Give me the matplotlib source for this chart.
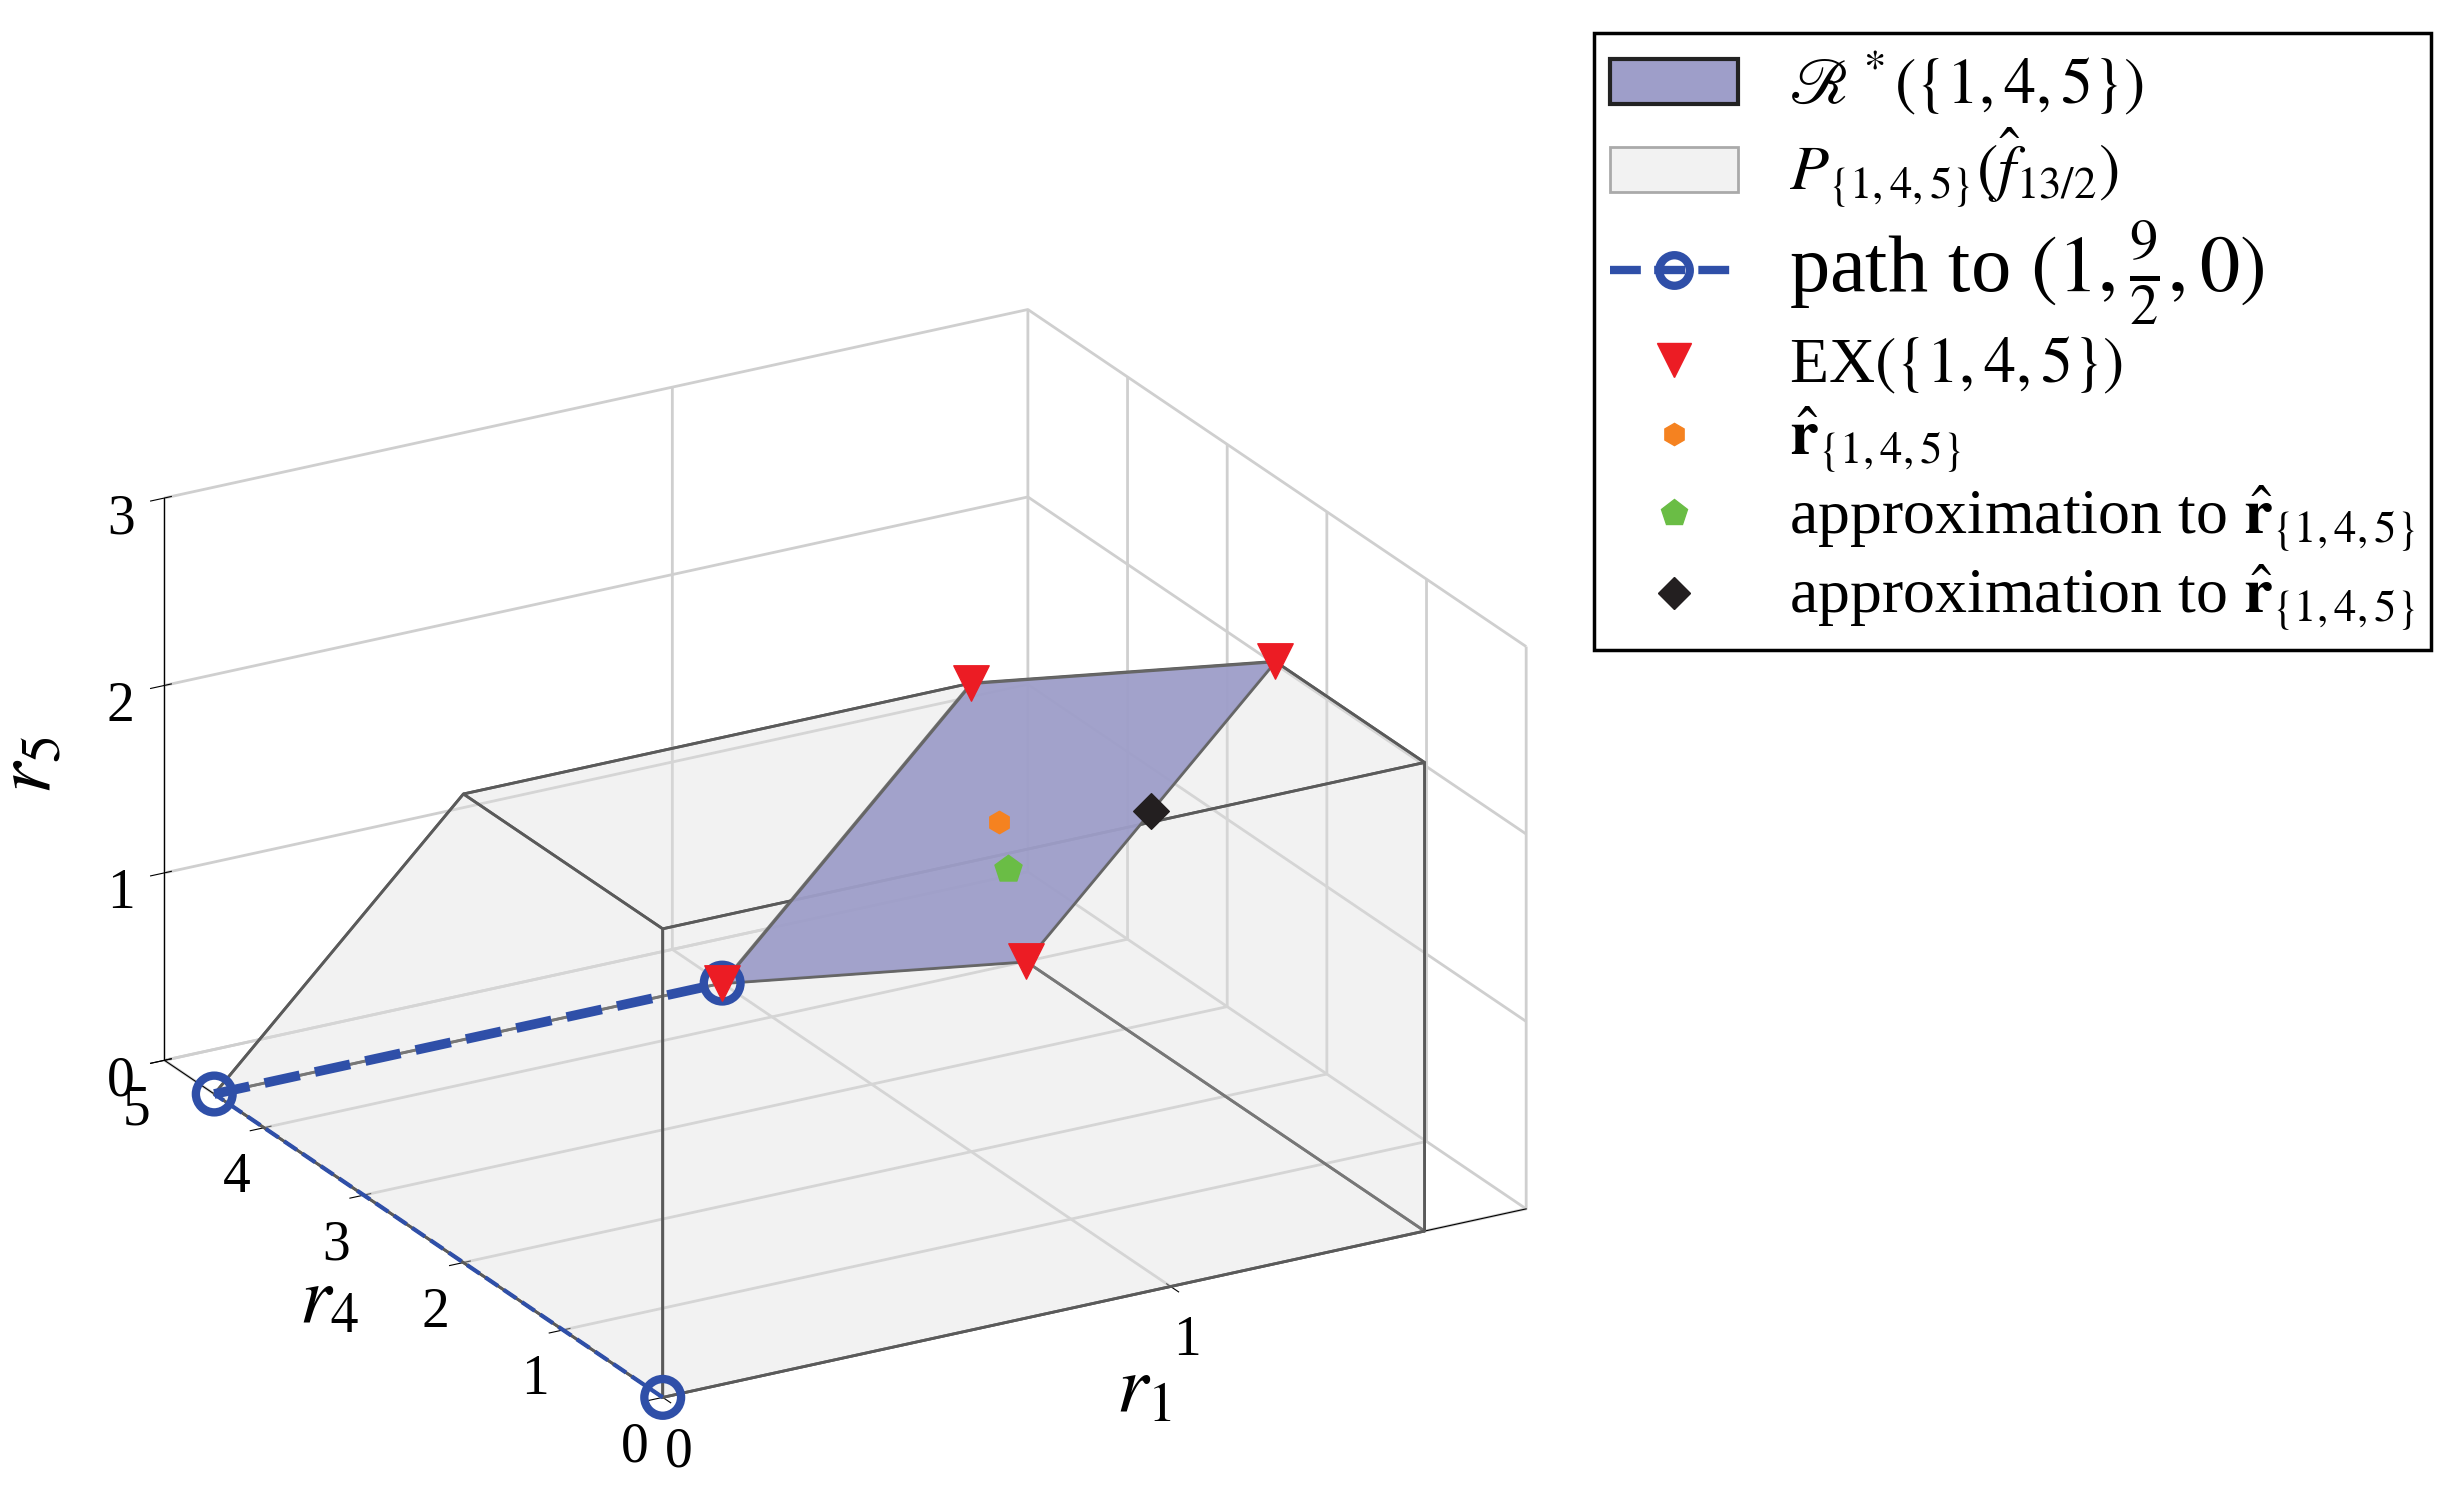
import numpy as np
import matplotlib.pyplot as plt
from mpl_toolkits.mplot3d.art3d import Poly3DCollection
from matplotlib.lines import Line2D
from matplotlib.patches import Patch

plt.rcParams['font.family'] = ['Liberation Serif', 'DejaVu Serif']
plt.rcParams['mathtext.fontset'] = 'stix'

# coordinates are (r1, r4, r5)
p_verts = {
    'left':   [(0, 0, 0), (0, 4.5, 0), (0, 2, 2.5), (0, 0, 2.5)],
    'right':  [(1.5, 0, 0), (1.5, 4, 0), (1.5, 1.5, 2.5), (1.5, 0, 2.5)],
    'front':  [(0, 0, 0), (1.5, 0, 0), (1.5, 0, 2.5), (0, 0, 2.5)],
    'bottom': [(0, 0, 0), (0, 4.5, 0), (1, 4.5, 0), (1.5, 4, 0), (1.5, 0, 0)],
    'top':    [(0, 0, 2.5), (0, 2, 2.5), (1, 2, 2.5), (1.5, 1.5, 2.5), (1.5, 0, 2.5)],
    'slope':  [(0, 4.5, 0), (1, 4.5, 0), (1, 2, 2.5), (0, 2, 2.5)],
}
rstar = [(1, 4.5, 0), (1.5, 4, 0), (1.5, 1.5, 2.5), (1, 2, 2.5)]
ex_pts = rstar
path_r1 = [0, 0, 1]
path_r4 = [0, 4.5, 4.5]
path_r5 = [0, 0, 0]
rhat = (1.25, 3.0, 1.25)
approx_green = (4 / 3, 10 / 3, 5 / 6)
approx_black = (1.5, 2.75, 1.25)

fig = plt.figure(figsize=(24.6, 14.96), dpi=100)
ax = fig.add_axes([0.0004, -0.084, 0.67, 1.0], projection='3d', computed_zorder=False)
ax.set_proj_type('ortho')
ax.view_init(elev=22.6, azim=-119.6)
ax.set_box_aspect((631, 641, 387), zoom=1.0)

pc = Poly3DCollection(list(p_verts.values()), facecolor=(0.88, 0.88, 0.88, 0.22),
                      edgecolor='#5a5a5a', linewidth=2, zorder=1)
ax.add_collection3d(pc)
rs = Poly3DCollection([rstar], facecolor=(0.62, 0.62, 0.79, 0.95), edgecolor='#666666',
                      linewidth=2, zorder=2)
ax.add_collection3d(rs)

blue = '#2f4fa8'
ax.plot(path_r1[:2], path_r4[:2], path_r5[:2], '--', color=blue, lw=3, zorder=3)
ax.plot(path_r1[1:], path_r4[1:], path_r5[1:], '--', color=blue, lw=7, zorder=3)
ax.scatter(path_r1, path_r4, path_r5, s=700, facecolors='none', edgecolors=blue,
           linewidths=6, depthshade=False, zorder=4)

e = np.array(ex_pts)
ax.scatter(e[:, 0], e[:, 1], e[:, 2], marker='v', s=650, color='#ec1c24', depthshade=False, zorder=5)
ax.scatter(*rhat, marker='h', s=260, color='#f58220', depthshade=False, zorder=5)
ax.scatter(*approx_green, marker='p', s=420, color='#6abd45', depthshade=False, zorder=5)
ax.scatter(*approx_black, marker='D', s=330, color='#231f20', depthshade=False, zorder=5)

ax.set_xlim(0, 1.7)
ax.set_ylim(0, 5)
ax.set_zlim(0, 3)
ax.set_xticks([0, 1])
ax.set_yticks([0, 1, 2, 3, 4, 5])
ax.set_zticks([0, 1, 2, 3])
ax.tick_params(labelsize=40, pad=10)
for a in (ax.xaxis, ax.yaxis, ax.zaxis):
    a.set_rotate_label(False)
    a.set_pane_color((1, 1, 1, 0))
    a._axinfo['grid'].update(color='#cfcfcf', linewidth=2)
ax.set_xlabel('$r_1$', fontsize=58, labelpad=34)
ax.set_ylabel('$r_4$', fontsize=58, labelpad=34)
ax.set_zlabel('$r_5$', fontsize=58, labelpad=34, rotation=90)

handles = [
    Patch(facecolor=(0.62, 0.62, 0.79), edgecolor='#222222', lw=3),
    Patch(facecolor=(0.95, 0.95, 0.95), edgecolor='#aaaaaa', lw=2),
    Line2D([], [], ls='--', color=blue, lw=6, marker='o', ms=22, mfc='none', mew=6),
    Line2D([], [], ls='', marker='v', ms=24, color='#ec1c24'),
    Line2D([], [], ls='', marker='h', ms=16, color='#f58220'),
    Line2D([], [], ls='', marker='p', ms=20, color='#6abd45'),
    Line2D([], [], ls='', marker='D', ms=16, color='#231f20'),
]
labels = [
    r'$\mathscr{R}^*(\{1,4,5\})$',
    r'$P_{\{1,4,5\}}(\hat{f}_{13/2})$',
    r'path to $(1,\frac{9}{2},0)$',
    r'EX$(\{1,4,5\})$',
    r'$\hat{\mathbf{r}}_{\{1,4,5\}}$',
    r'approximation to $\hat{\mathbf{r}}_{\{1,4,5\}}$',
    r'approximation to $\hat{\mathbf{r}}_{\{1,4,5\}}$',
]
leg = fig.legend(handles, labels, loc='upper left', bbox_to_anchor=(0.648, 0.978),
                 fontsize=46, fancybox=False, edgecolor='black', framealpha=1,
                 handlelength=2.0, borderpad=0.25, labelspacing=0.12, borderaxespad=0)
leg.get_frame().set_linewidth(2.5)
for t in leg.get_texts()[2:3]:
    t.set_fontsize(58)

fig.savefig('out.png')
